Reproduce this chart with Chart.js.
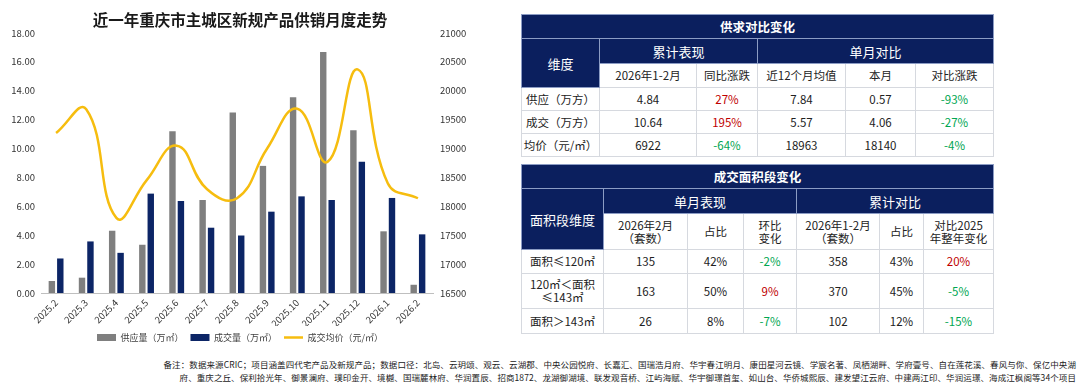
<!DOCTYPE html>
<html>
<head>
<meta charset="utf-8">
<script src="https://cdn.jsdelivr.net/npm/chart.js@4.4.1/dist/chart.umd.min.js"></script>
<style>
body { margin: 0; width: 1080px; height: 385px; background: #fff; position: relative; overflow: hidden; font-family: "Noto Sans CJK SC", "Noto Sans", sans-serif; color: #222; }
#chartBox { position: absolute; left: 0; top: 0; width: 480px; height: 352px; }
table { position: absolute; left: 521px; border-collapse: collapse; table-layout: fixed; width: 472px; }
td { border: 1px solid #d6d9df; text-align: center; padding: 0; font-size: 11.5px; line-height: 13px; color: #222; }
td.nv { background: #0b1f5e; color: #fff; border-color: #8c9cc4; }
td.ttl { font-weight: bold; font-size: 12.5px; }
td.h1 { font-size: 13px; }
.red { color: #c00000; }
.grn { color: #00a651; }
.note { position: absolute; right: 4px; font-size: 8.5px; letter-spacing: 0.09px; line-height: 12px; color: #222; white-space: nowrap; }
</style>
</head>
<body>
<div id="chartBox"><canvas id="c"></canvas></div>

<table style="top:14px">
<colgroup><col style="width:78px"><col style="width:97px"><col style="width:61px"><col style="width:88px"><col style="width:70px"><col style="width:78px"></colgroup>
<tr style="height:24px"><td class="nv ttl" colspan="6">供求对比变化</td></tr>
<tr style="height:25px"><td class="nv h1" rowspan="2">维度</td><td class="nv h1" colspan="2">累计表现</td><td class="nv h1" colspan="3">单月对比</td></tr>
<tr style="height:24px"><td>2026年1-2月</td><td>同比涨跌</td><td>近12个月均值</td><td>本月</td><td>对比涨跌</td></tr>
<tr style="height:23px"><td>供应（万方）</td><td>4.84</td><td class="red">27%</td><td>7.84</td><td>0.57</td><td class="grn">-93%</td></tr>
<tr style="height:23px"><td>成交（万方）</td><td>10.64</td><td class="red">195%</td><td>5.57</td><td>4.06</td><td class="grn">-27%</td></tr>
<tr style="height:23px"><td>均价（元/㎡）</td><td>6922</td><td class="grn">-64%</td><td>18963</td><td>18140</td><td class="grn">-4%</td></tr>
</table>

<table style="top:164px">
<colgroup><col style="width:82px"><col style="width:84px"><col style="width:56px"><col style="width:53px"><col style="width:83px"><col style="width:44px"><col style="width:70px"></colgroup>
<tr style="height:24px"><td class="nv ttl" colspan="7">成交面积段变化</td></tr>
<tr style="height:25px"><td class="nv h1" rowspan="2">面积段维度</td><td class="nv h1" colspan="3">单月表现</td><td class="nv h1" colspan="3">累计对比</td></tr>
<tr style="height:36px"><td>2026年2月<br>（套数）</td><td>占比</td><td>环比<br>变化</td><td>2026年1-2月<br>（套数）</td><td>占比</td><td>对比2025<br>年整年变化</td></tr>
<tr style="height:24px"><td>面积≤120㎡</td><td>135</td><td>42%</td><td class="grn">-2%</td><td>358</td><td>43%</td><td class="red">20%</td></tr>
<tr style="height:35px"><td>120㎡＜面积<br>≤143㎡</td><td>163</td><td>50%</td><td class="red">9%</td><td>370</td><td>45%</td><td class="grn">-5%</td></tr>
<tr style="height:25px"><td>面积＞143㎡</td><td>26</td><td>8%</td><td class="grn">-7%</td><td>102</td><td>12%</td><td class="grn">-15%</td></tr>
</table>

<div class="note" style="top:358px">备注：数据来源CRIC；项目涵盖四代宅产品及新规产品；数据口径：北岛、云玥颂、观云、云湖郡、中央公园悦府、长嘉汇、国瑞浩月府、华宇春江明月、康田星河云镜、学宸名著、凤栖湖畔、学府壹号、自在莲花溪、春风与你、保亿中央湖</div>
<div class="note" style="top:371px">府、重庆之丘、保利拾光年、御景澜府、璞印金开、境樾、国瑞麓林府、华润置辰、招商1872、龙湖御湖境、联发观音桥、江屿海赋、华宇御璟首玺、如山台、华侨城熙辰、建发望江云府、中建两江印、华润运璟、海成江枫阁等34个项目</div>

<script>
const months = ["2025.2", "2025.3", "2025.4", "2025.5", "2025.6", "2025.7", "2025.8", "2025.9", "2025.10", "2025.11", "2025.12", "2026.1", "2026.2"];
const supply = [0.83, 1.06, 4.31, 3.34, 11.19, 6.44, 12.50, 8.80, 13.55, 16.68, 11.26, 4.27, 0.57];
const deals = [2.39, 3.57, 2.78, 6.88, 6.37, 4.52, 3.98, 5.63, 6.69, 6.44, 9.08, 6.58, 4.06];
const price = [19270, 19680, 17800, 18450, 19050, 18300, 18140, 19000, 19690, 18770, 20370, 18400, 18140];
const leftAxis = [0, 18, 2];
const rightAxis = [16500, 21000, 500];

const tickFont = { family: "Noto Sans CJK SC", size: 9.5 };

new Chart(document.getElementById("c"), {
    data: {
        labels: months,
        datasets: [{
            type: "bar",
            label: "供应量（万㎡）",
            data: supply,
            backgroundColor: "#7f7f7f",
            categoryPercentage: 0.56,
            barPercentage: 0.76,
            order: 1,
            pointStyle: "rect"
        }, {
            type: "bar",
            label: "成交量（万㎡）",
            data: deals,
            backgroundColor: "#0c2566",
            categoryPercentage: 0.56,
            barPercentage: 0.76,
            order: 1,
            pointStyle: "rect"
        }, {
            type: "line",
            label: "成交均价（元/㎡）",
            data: price,
            yAxisID: "y1",
            borderColor: "#f6bd0f",
            backgroundColor: "#f6bd0f",
            borderWidth: 2.5,
            pointRadius: 0,
            tension: 0.45,
            order: 0,
            pointStyle: "line"
        }]
    },
    options: {
        responsive: true,
        maintainAspectRatio: false,
        animation: false,
        layout: { padding: 0 },
        plugins: {
            tooltip: { enabled: false },
            title: {
                display: true,
                text: "近一年重庆市主城区新规产品供销月度走势",
                color: "#1a1a1a",
                font: { family: "Noto Sans CJK SC", size: 15.5, weight: "bold" },
                padding: { top: 11, bottom: 3.4 }
            },
            legend: {
                position: "bottom",
                labels: {
                    usePointStyle: true,
                    pointStyleWidth: 19,
                    boxHeight: 7,
                    padding: 7,
                    color: "#404040",
                    font: { family: "Noto Sans CJK SC", size: 9 },
                    sort: (a, b) => a.datasetIndex - b.datasetIndex
                }
            }
        },
        scales: {
            x: {
                grid: { display: false, drawTicks: false },
                border: { display: true, color: "#bfbfbf", width: 1 },
                ticks: { color: "#333", font: tickFont, minRotation: 45, maxRotation: 45, padding: 4 },
                afterFit: s => { s.height = 33; }
            },
            y: {
                position: "left",
                min: leftAxis[0], max: leftAxis[1],
                grid: { display: false, drawTicks: false },
                border: { display: false },
                ticks: { stepSize: leftAxis[2], color: "#333", font: tickFont, padding: 6, callback: v => v.toFixed(2) },
                afterFit: s => { s.width = 41; }
            },
            y1: {
                position: "right",
                min: rightAxis[0], max: rightAxis[1],
                grid: { display: false, drawTicks: false },
                border: { display: false },
                ticks: { stepSize: rightAxis[2], color: "#333", font: tickFont, padding: 7, callback: v => String(v) },
                afterFit: s => { s.width = 47; }
            }
        }
    }
});
</script>
</body>
</html>
